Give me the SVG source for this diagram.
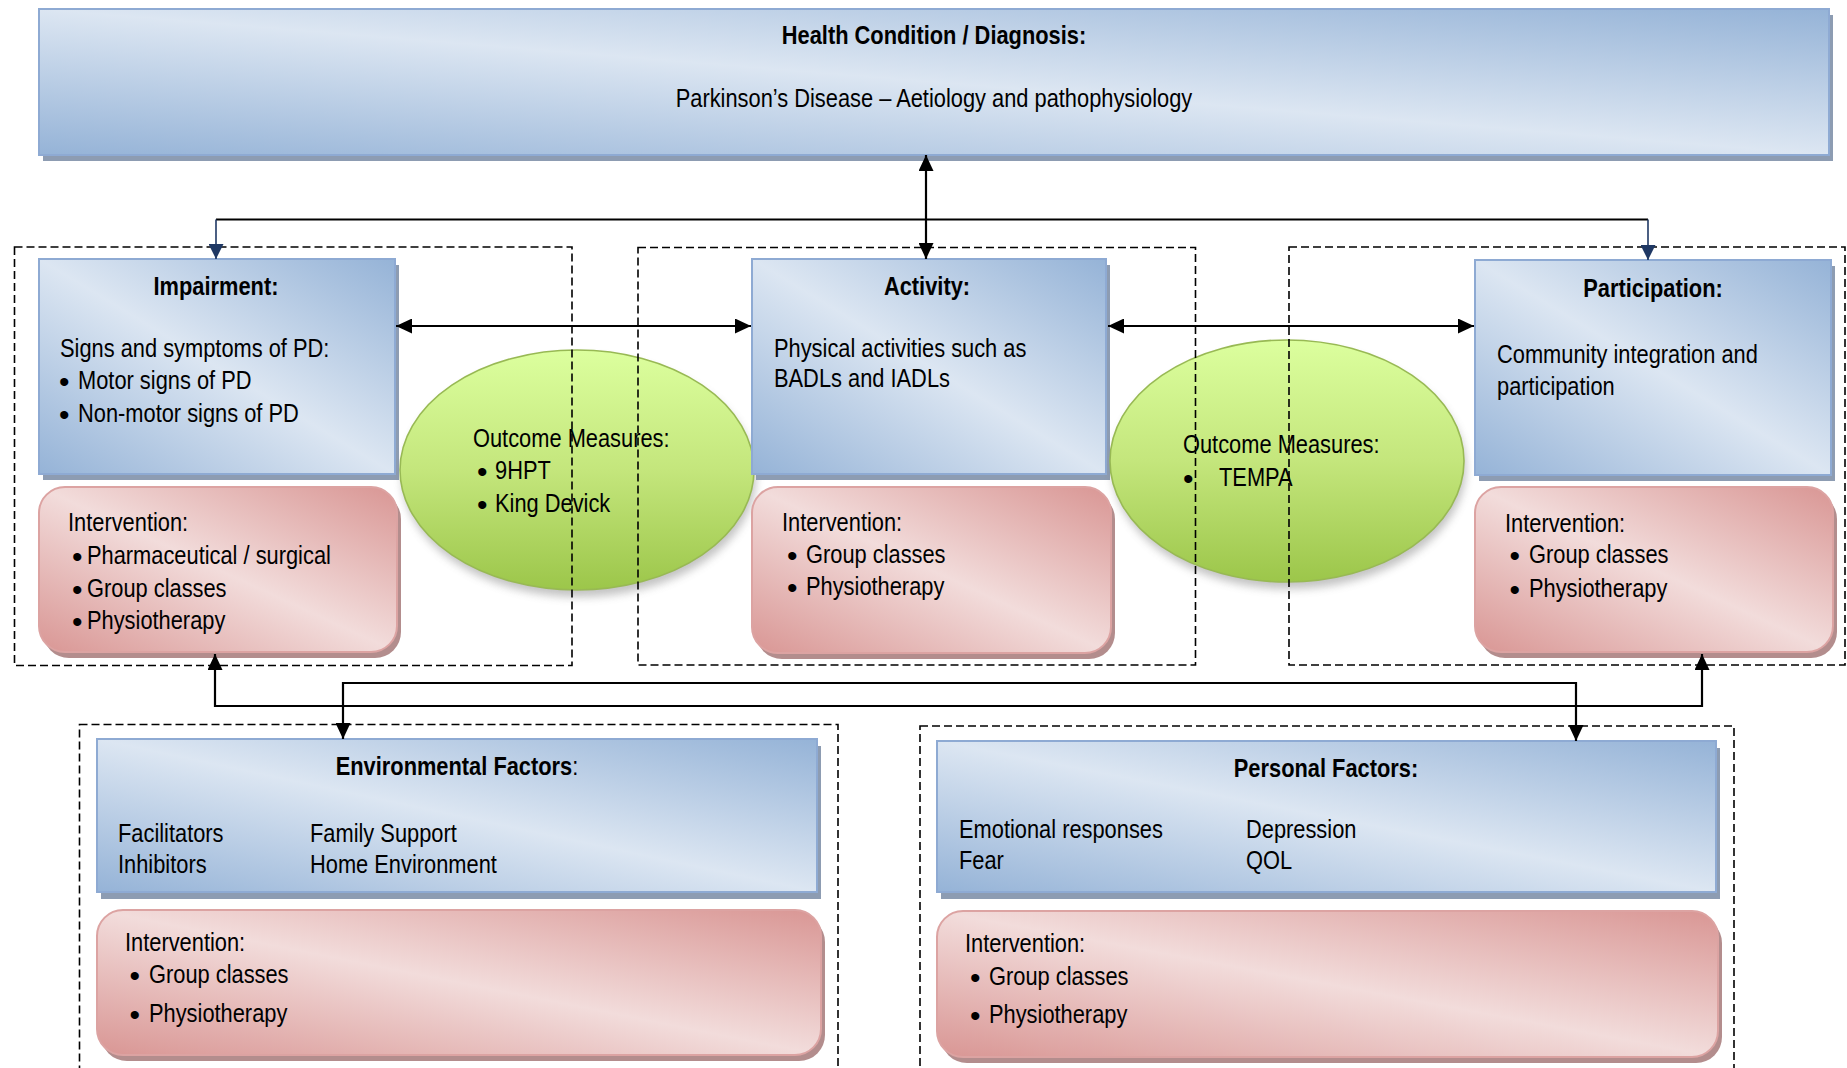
<svg xmlns="http://www.w3.org/2000/svg" width="1847" height="1068" viewBox="0 0 1847 1068">
<style>
.t{font-family:'Liberation Sans',Arial,sans-serif;font-size:26px;fill:#000}
.bu{font-family:'Liberation Sans',Arial,sans-serif;font-size:30px;fill:#000}
.b{font-weight:bold}
.c{text-anchor:middle}
.blue{fill:url(#gBlue);stroke:#8eaad3;stroke-width:2}
.bsh{fill:#8d9cb2}
.red{fill:url(#gRed);stroke:#dca3a2;stroke-width:2}
.rsh{fill:#b38d8d}
.ell{fill:url(#gGreen);stroke:#98b954;stroke-width:1.6}
.esh{fill:#7a7a7a;opacity:0.45}
.frame{fill:none;stroke:#000;stroke-width:1.6;stroke-dasharray:8 4}
.ln{fill:none;stroke:#000;stroke-width:2.2}
.nv{fill:none;stroke:#1f3864;stroke-width:1.6}
</style>
<defs>
<linearGradient id="gBlue" x1="0" y1="1" x2="1" y2="0">
<stop offset="0" stop-color="#95b3d7"/>
<stop offset="0.5" stop-color="#dce6f2"/>
<stop offset="1" stop-color="#95b3d7"/>
</linearGradient>
<linearGradient id="gRed" x1="0" y1="1" x2="1" y2="0">
<stop offset="0" stop-color="#d99694"/>
<stop offset="0.5" stop-color="#f2dcdb"/>
<stop offset="1" stop-color="#d99694"/>
</linearGradient>
<linearGradient id="gGreen" x1="0" y1="0" x2="0" y2="1">
<stop offset="0" stop-color="#dcff9e"/>
<stop offset="0.5" stop-color="#c4e67c"/>
<stop offset="1" stop-color="#9cc64a"/>
</linearGradient>
<filter id="blur" x="-20%" y="-20%" width="140%" height="140%">
<feGaussianBlur stdDeviation="4"/>
</filter>
<marker id="arr" markerUnits="userSpaceOnUse" viewBox="0 0 16 15" markerWidth="16" markerHeight="15" refX="16" refY="7.5" orient="auto-start-reverse">
<path d="M0,0 L16,7.5 L0,15 Z" fill="#000"/>
</marker>
<marker id="narr" markerUnits="userSpaceOnUse" viewBox="0 0 15 15" markerWidth="15" markerHeight="15" refX="15" refY="7.5" orient="auto">
<path d="M0,0 L15,7.5 L0,15 Z" fill="#1f3864"/>
</marker>
</defs>

<g id="health-condition">
<rect class="bsh" x="43" y="15" width="1790" height="146"/>
<rect class="blue" x="39" y="9" width="1790" height="146"/>
<text class="t b c" transform="translate(934,44) scale(0.84,1)">Health Condition / Diagnosis:</text>
<text class="t c" transform="translate(934,107) scale(0.84,1)">Parkinson’s Disease – Aetiology and pathophysiology</text>
</g>

<g id="impairment">
<rect class="bsh" x="43" y="265" width="356" height="215"/>
<rect class="blue" x="39" y="259" width="356" height="215"/>
<text class="t b c" transform="translate(216,295) scale(0.84,1)">Impairment:</text>
<text class="t" transform="translate(60,357) scale(0.84,1)">Signs and symptoms of PD:</text>
<text class="bu"><tspan x="59" y="392">•</tspan><tspan x="59" y="425">•</tspan></text>
<text class="t" transform="translate(78,389) scale(0.84,1)">Motor signs of PD</text>
<text class="t" transform="translate(78,422) scale(0.84,1)">Non-motor signs of PD</text>
</g>

<g id="impairment-intervention">
<rect class="rsh" x="43" y="493" width="358" height="165" rx="26"/>
<rect class="red" x="39" y="487" width="358" height="165" rx="26"/>
<text class="t" transform="translate(68,531) scale(0.84,1)">Intervention:</text>
<text class="bu"><tspan x="72" y="567">•</tspan><tspan x="72" y="600">•</tspan><tspan x="72" y="632">•</tspan></text>
<text class="t" transform="translate(87,564) scale(0.84,1)">Pharmaceutical / surgical</text>
<text class="t" transform="translate(87,597) scale(0.84,1)">Group classes</text>
<text class="t" transform="translate(87,629) scale(0.84,1)">Physiotherapy</text>
</g>

<g id="outcome-measures-1">
<ellipse class="esh" cx="579" cy="477" rx="177" ry="120" filter="url(#blur)"/>
<ellipse class="ell" cx="577" cy="470" rx="177" ry="120"/>
<text class="t" transform="translate(473,447) scale(0.84,1)">Outcome Measures:</text>
<text class="bu"><tspan x="477" y="482">•</tspan><tspan x="477" y="515">•</tspan></text>
<text class="t" transform="translate(495,479) scale(0.84,1)">9HPT</text>
<text class="t" transform="translate(495,512) scale(0.84,1)">King Devick</text>
</g>

<g id="activity">
<rect class="bsh" x="756" y="265" width="354" height="215"/>
<rect class="blue" x="752" y="259" width="354" height="215"/>
<text class="t b c" transform="translate(927,295) scale(0.84,1)">Activity:</text>
<text class="t" transform="translate(774,357) scale(0.84,1)">Physical activities such as</text>
<text class="t" transform="translate(774,387) scale(0.84,1)">BADLs and IADLs</text>
</g>

<g id="activity-intervention">
<rect class="rsh" x="756" y="493" width="359" height="166" rx="26"/>
<rect class="red" x="752" y="487" width="359" height="166" rx="26"/>
<text class="t" transform="translate(782,531) scale(0.84,1)">Intervention:</text>
<text class="bu"><tspan x="787" y="566">•</tspan><tspan x="787" y="598">•</tspan></text>
<text class="t" transform="translate(806,563) scale(0.84,1)">Group classes</text>
<text class="t" transform="translate(806,595) scale(0.84,1)">Physiotherapy</text>
</g>

<g id="outcome-measures-2">
<ellipse class="esh" cx="1289" cy="468" rx="177" ry="121" filter="url(#blur)"/>
<ellipse class="ell" cx="1287" cy="461" rx="177" ry="121"/>
<text class="t" transform="translate(1183,453) scale(0.84,1)">Outcome Measures:</text>
<text class="bu" x="1183" y="489">•</text>
<text class="t" transform="translate(1219,486) scale(0.84,1)">TEMPA</text>
</g>

<g id="participation">
<rect class="bsh" x="1479" y="266" width="356" height="215"/>
<rect class="blue" x="1475" y="260" width="356" height="215"/>
<text class="t b c" transform="translate(1653,297) scale(0.84,1)">Participation:</text>
<text class="t" transform="translate(1497,363) scale(0.84,1)">Community integration and</text>
<text class="t" transform="translate(1497,395) scale(0.84,1)">participation</text>
</g>

<g id="participation-intervention">
<rect class="rsh" x="1479" y="493" width="358" height="165" rx="26"/>
<rect class="red" x="1475" y="487" width="358" height="165" rx="26"/>
<text class="t" transform="translate(1505,532) scale(0.84,1)">Intervention:</text>
<text class="bu"><tspan x="1509.5" y="566">•</tspan><tspan x="1509.5" y="600">•</tspan></text>
<text class="t" transform="translate(1529,563) scale(0.84,1)">Group classes</text>
<text class="t" transform="translate(1529,597) scale(0.84,1)">Physiotherapy</text>
</g>

<g id="environmental-factors">
<rect class="bsh" x="101" y="746" width="720" height="153"/>
<rect class="blue" x="97" y="739" width="720" height="153"/>
<text class="t c" transform="translate(457,775) scale(0.84,1)"><tspan class="b">Environmental Factors</tspan>:</text>
<text class="t" transform="translate(118,842) scale(0.84,1)">Facilitators</text>
<text class="t" transform="translate(118,873) scale(0.84,1)">Inhibitors</text>
<text class="t" transform="translate(310,842) scale(0.84,1)">Family Support</text>
<text class="t" transform="translate(310,873) scale(0.84,1)">Home Environment</text>
</g>

<g id="environmental-intervention">
<rect class="rsh" x="101" y="916" width="724" height="145" rx="26"/>
<rect class="red" x="97" y="910" width="724" height="145" rx="26"/>
<text class="t" transform="translate(125,951) scale(0.84,1)">Intervention:</text>
<text class="bu"><tspan x="129.5" y="986">•</tspan><tspan x="129.5" y="1025">•</tspan></text>
<text class="t" transform="translate(149,983) scale(0.84,1)">Group classes</text>
<text class="t" transform="translate(149,1022) scale(0.84,1)">Physiotherapy</text>
</g>

<g id="personal-factors">
<rect class="bsh" x="941" y="748" width="779" height="151"/>
<rect class="blue" x="937" y="741" width="779" height="151"/>
<text class="t b c" transform="translate(1326,777) scale(0.84,1)">Personal Factors:</text>
<text class="t" transform="translate(959,838) scale(0.84,1)">Emotional responses</text>
<text class="t" transform="translate(959,869) scale(0.84,1)">Fear</text>
<text class="t" transform="translate(1246,838) scale(0.84,1)">Depression</text>
<text class="t" transform="translate(1246,869) scale(0.84,1)">QOL</text>
</g>

<g id="personal-intervention">
<rect class="rsh" x="941" y="917" width="781" height="146" rx="26"/>
<rect class="red" x="937" y="911" width="781" height="146" rx="26"/>
<text class="t" transform="translate(965,952) scale(0.84,1)">Intervention:</text>
<text class="bu"><tspan x="970" y="988">•</tspan><tspan x="970" y="1026">•</tspan></text>
<text class="t" transform="translate(989,985) scale(0.84,1)">Group classes</text>
<text class="t" transform="translate(989,1023) scale(0.84,1)">Physiotherapy</text>
</g>

<g id="frames">
<rect class="frame" x="14.5" y="247" width="557.5" height="418.5"/>
<rect class="frame" x="638" y="247.5" width="557.5" height="417.5"/>
<rect class="frame" x="1289" y="247" width="556" height="418"/>
<rect class="frame" x="79.5" y="724.5" width="758.5" height="400"/>
<rect class="frame" x="920" y="726" width="814" height="400"/>
</g>

<g id="connectors">
<path class="ln" d="M926,155 L926,259" marker-start="url(#arr)" marker-end="url(#arr)"/>
<path class="ln" d="M216,219.5 L1648,219.5"/>
<path class="nv" d="M216,219.5 L216,259" marker-end="url(#narr)"/>
<path class="nv" d="M1648,219.5 L1648,260" marker-end="url(#narr)"/>
<path class="ln" d="M396,326 L751,326" marker-start="url(#arr)" marker-end="url(#arr)"/>
<path class="ln" d="M1108,326 L1474,326" marker-start="url(#arr)" marker-end="url(#arr)"/>
<path class="ln" d="M215,654 L215,706 L1702,706 L1702,654" marker-start="url(#arr)" marker-end="url(#arr)"/>
<path class="ln" d="M343,739 L343,683 L1576,683 L1576,741" marker-start="url(#arr)" marker-end="url(#arr)"/>
</g>
</svg>
